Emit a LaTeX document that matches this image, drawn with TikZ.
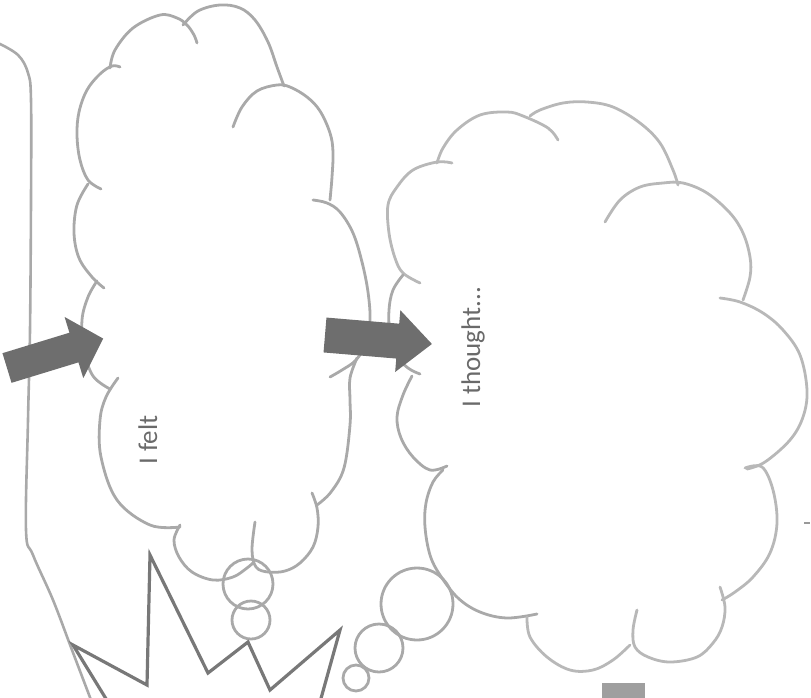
\documentclass[tikz,border=0pt]{standalone}
\usepackage{fontspec}
\newfontfamily\labelfont{Carlito}
\definecolor{cloudline}{HTML}{A9A9A9}
\definecolor{cloudlinelight}{HTML}{B8B8B8}
\definecolor{arrowgray}{HTML}{6E6E6E}
\definecolor{burstgray}{HTML}{787878}
\definecolor{labelgray}{HTML}{6A6A6A}
\tikzset{
  cloudedge/.style={draw=cloudline, line width=2.8pt, line cap=round, line join=round},
  cloudedgelight/.style={draw=cloudlinelight, line width=2.8pt, line cap=round, line join=round},
  framestyle/.style={draw=cloudline, line width=2.6pt, line cap=round, line join=round},
  burst/.style={draw=burstgray, line width=3.2pt, line join=miter},
  arrowbody/.style={fill=arrowgray},
  labeltext/.style={text=labelgray, inner sep=0pt, rotate=90, anchor=base west,
    font=\labelfont\fontsize{27}{30}\selectfont},
  pics/blockarrow/.style args={#1/#2/#3/#4}{code={
    \fill[arrowbody] (0,-#2) -- (#3,-#2) -- (#3,-#4) -- (#1,0) -- (#3,#4) -- (#3,#2) -- (0,#2) -- cycle;
  }}
}
\begin{document}
\begin{tikzpicture}[x=1pt, y=-1pt]
\useasboundingbox (0,0) rectangle (811,697);
\clip (0,0) rectangle (811,697);

% left page frame
\draw[framestyle] plot[smooth, tension=0.6] coordinates {(-2,43) (18,55) (28,73) (31,100) (31,200) (30,330) (28,420) (26,530) (33,555) (53,600) (72,650) (91,700)};

% first thought cloud ("I felt")
\draw[cloudedge] plot[smooth, tension=0.6] coordinates {(180,527) (150,525) (117,500) (101,457) (100,420) (106,397) (118,378)};
\draw[cloudedge] plot[smooth, tension=0.6] coordinates {(110,389) (93,376) (84,350) (82,320) (88,297) (97,281)};
\draw[cloudedge] plot[smooth, tension=0.6] coordinates {(88,184) (77,205) (74,233) (79,258) (92,277) (104,288)};
\draw[cloudedge] plot[smooth, tension=0.6] coordinates {(101,189) (88,180) (80,160) (77,135) (79,112) (87,90) (100,74) (112,66) (120,67)};
\draw[cloudedge] plot[smooth, tension=0.6] coordinates {(110,68) (115,50) (133,28) (160,15) (177,18) (187,25) (194,35) (197,43)};
\draw[cloudedge] plot[smooth, tension=0.6] coordinates {(183,25) (198,11) (220,5) (240,8) (255,20) (268,42) (277,67) (284,86)};
\draw[cloudedge] plot[smooth, tension=0.6] coordinates {(233,127) (242,107) (257,91) (277,85) (290,87) (307,97) (320,111) (330,133) (333,152) (332,177) (330,200)};
\draw[cloudedge] plot[smooth, tension=0.6] coordinates {(313,200) (327,203) (340,212) (353,233) (362,262) (368,292) (370,320) (366,343) (356,360) (342,370) (330,377)};
\draw[cloudedge] plot[smooth, tension=0.6] coordinates {(357,358) (350,378) (350,400) (350,425) (344,468) (331,492) (317,505)};
\draw[cloudedge] plot[smooth, tension=0.6] coordinates {(312,493) (317,508) (318,527) (313,547) (300,563) (285,571) (268,572) (256,567) (252,550) (255,522)};
\draw[cloudedge] plot[smooth, tension=0.6] coordinates {(180,525) (174,540) (179,557) (192,572) (213,580) (233,577) (247,568) (254,562)};
\draw[cloudedge] (248,584) circle[radius=25];
\draw[cloudedge] (251,620) circle[radius=19];

% second thought cloud ("I thought...")
\draw[cloudedgelight] plot[smooth, tension=0.6] coordinates {(452,163) (437,162) (413,170) (397,187) (388,205) (389,233) (395,258) (403,273) (420,283)};
\draw[cloudedge] plot[smooth, tension=0.6] coordinates {(403,275) (393,290) (389,310) (390,335) (396,355) (408,368) (420,374)};
\draw[cloudedge] plot[smooth, tension=0.6] coordinates {(412,376) (403,395) (397,417) (401,438) (413,457) (430,470) (447,466)};
\draw[cloudedge] plot[smooth, tension=0.6] coordinates {(443,470) (433,482) (426,503) (425,527) (430,555) (440,575) (458,598) (480,612) (507,618) (537,614)};
\draw[cloudedgelight] plot[smooth, tension=0.6] coordinates {(527,617) (530,637) (547,657) (570,670) (593,670) (613,660) (630,645)};
\draw[cloudedgelight] plot[smooth, tension=0.6] coordinates {(637,610) (633,630) (635,647) (648,657) (670,662) (697,657) (713,643) (722,627) (725,607) (720,587)};
\draw[cloudedgelight] plot[smooth, tension=0.6] coordinates {(722,600) (735,592) (753,577) (770,553) (777,523) (773,490) (762,467) (745,468)};
\draw[cloudedgelight] plot[smooth, tension=0.6] coordinates {(747,469) (765,462) (790,440) (803,417) (807,390) (800,355) (783,330) (763,313) (740,302) (720,298)};
\draw[cloudedgelight] plot[smooth, tension=0.6] coordinates {(743,300) (750,277) (750,257) (743,233) (730,213) (707,193) (683,183) (663,183) (640,187) (620,200) (605,222)};
\draw[cloudedgelight] plot[smooth, tension=0.6] coordinates {(678,185) (673,170) (660,143) (640,123) (613,107) (587,102) (563,103) (540,110) (530,116)};
\draw[cloudedgelight] plot[smooth, tension=0.6] coordinates {(558,140) (548,128) (523,116) (507,112) (480,115) (457,130) (443,148) (437,163)};
\draw[cloudedge] (417,604) circle[radius=36];
\draw[cloudedge] (379,648) circle[radius=24];
\draw[cloudedge] (356,678) circle[radius=13];

% burst outline at the bottom
\draw[burst] (108,702) -- (73,645) -- (147,685) -- (150,555) -- (208,673) -- (248,642) -- (270,690) -- (340,630) -- (320,702);

% block arrows
\pic[rotate=17] at (7,368) {blockarrow={100.6/15.5/70/32}};
\pic[rotate=-4.8] at (325,335) {blockarrow={107.3/17.5/73/31}};

% labels
\node[labeltext] (felt) at (157,465) {I felt};
\node[labeltext] (thought) at (480,408) {I thought...};

% small marks near the lower edge
\fill[gray!75] (602,683) rectangle (645,700);
\draw[gray!80, line width=1.2pt] (804,523) -- (810,523);
\end{tikzpicture}
\end{document}
